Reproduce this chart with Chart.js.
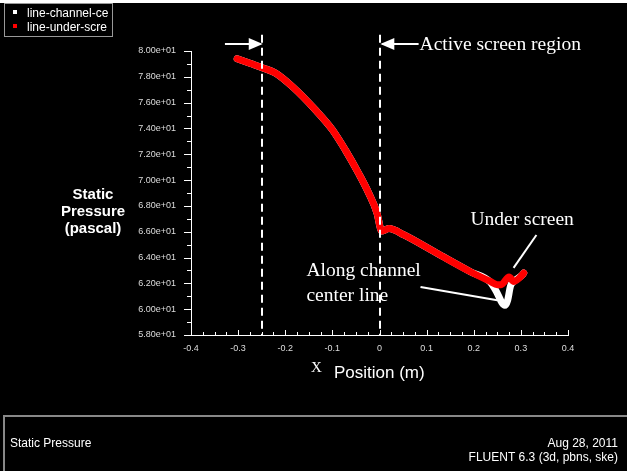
<!DOCTYPE html>
<html>
<head>
<meta charset="utf-8">
<script src="https://cdn.jsdelivr.net/npm/chart.js@4.4.0/dist/chart.umd.min.js"></script>
<style>
  html, body { margin: 0; padding: 0; background: #000; }
  #wrap { position: absolute; left: 0; top: 0; width: 627px; height: 471px; }
</style>
</head>
<body>
<div id="wrap"><canvas id="myChart" width="627" height="471"></canvas></div>
<script>
// position along the line (m)
var xUnder = [-0.302, -0.275, -0.246, -0.221, -0.185, -0.136, -0.100, -0.072, -0.044, -0.023, -0.005, 0.001, 0.004, 0.020, 0.052, 0.122, 0.193, 0.235, 0.250, 0.258, 0.275, 0.285, 0.303, 0.306]
var pUnder = [79.4, 79.05, 78.67, 78.3, 77.25, 75.44, 73.9, 72.3, 70.5, 69.0, 67.4, 66.4, 66.05, 66.25, 65.75, 64.33, 62.9, 62.15, 61.9, 61.9, 62.5, 62.15, 62.65, 62.8]

var xChannel = [-0.302, -0.275, -0.246, -0.221, -0.185, -0.136, -0.100, -0.072, -0.044, -0.023, -0.005, 0.001, 0.004, 0.020, 0.052, 0.122, 0.193, 0.235, 0.246, 0.266, 0.272, 0.278, 0.285, 0.303, 0.306]
var pChannel = [79.4, 79.05, 78.67, 78.3, 77.25, 75.44, 73.9, 72.3, 70.5, 69.0, 67.4, 66.4, 66.05, 66.25, 65.75, 64.33, 62.9, 62.1, 61.5, 60.3, 60.7, 61.8, 62.15, 62.65, 62.8]

var seriesNames = ["line-channel-ce", "line-under-scre"]
var seriesColors = ["#ffffff", "#ff0000"]

var xTicks = [-0.4, -0.3, -0.2, -0.1, 0, 0.1, 0.2, 0.3, 0.4]
var yTicks = [58, 60, 62, 64, 66, 68, 70, 72, 74, 76, 78, 80]

var screenEdges = [-0.25, 0]

function pts(xs, ys) {
  return xs.map(function(x, i) { return {x: x, y: ys[i]} })
}

function sci(v) {
  var e = Math.floor(Math.log10(Math.abs(v)))
  var m = v / Math.pow(10, e)
  return m.toFixed(2) + 'e' + (e < 0 ? '-' : '+') + String(Math.abs(e)).padStart(2, '0')
}

var SANS = '"Liberation Sans", Arial, sans-serif'
var SERIF = '"Liberation Serif", "Times New Roman", serif'

var fluentDecor = {
  id: 'fluentDecor',
  beforeDraw: function(chart) {
    var c = chart.ctx
    c.save()
    c.fillStyle = '#000'
    c.fillRect(0, 0, chart.width, chart.height)
    c.fillStyle = '#fff'
    c.fillRect(0, 0, chart.width, 3)
    c.restore()
  },
  afterDatasetsDraw: function(chart) {
    var c = chart.ctx, xs = chart.scales.x, ys = chart.scales.y
    c.save()
    // dashed screen region bounds
    c.strokeStyle = '#fff'
    c.lineWidth = 2
    c.setLineDash([8, 5])
    screenEdges.forEach(function(v) {
      var px = Math.round(xs.getPixelForValue(v))
      c.beginPath()
      c.moveTo(px, ys.getPixelForValue(81.25))
      c.lineTo(px, ys.bottom)
      c.stroke()
    })
    c.restore()
  },
  afterDraw: function(chart) {
    var c = chart.ctx, xs = chart.scales.x, ys = chart.scales.y
    var X = function(v) { return xs.getPixelForValue(v) }
    var Y = function(v) { return ys.getPixelForValue(v) }
    c.save()
    c.strokeStyle = '#fff'
    c.fillStyle = '#fff'
    c.lineWidth = 1
    // y minor + major ticks (outward)
    for (var v = 58; v <= 80; v++) {
      var py = Math.round(Y(v)) + 0.5
      var len = (v % 2 === 0) ? 7 : 4
      c.beginPath(); c.moveTo(xs.left - len, py); c.lineTo(xs.left, py); c.stroke()
    }
    // x ticks (inward)
    for (var k = -16; k <= 16; k++) {
      var px = Math.round(X(k * 0.025)) + 0.5
      var l2 = (k % 4 === 0) ? 5 : 3
      c.beginPath(); c.moveTo(px, ys.bottom); c.lineTo(px, ys.bottom - l2); c.stroke()
    }

    // arrows at the top
    function arrow(x0, x1, y) {
      c.lineWidth = 2
      c.beginPath(); c.moveTo(x0, y); c.lineTo(x1, y); c.stroke()
      var dir = x1 > x0 ? 1 : -1
      c.beginPath()
      c.moveTo(x1 + dir * 2, y)
      c.lineTo(x1 - dir * 12, y - 6)
      c.lineTo(x1 - dir * 12, y + 6)
      c.closePath(); c.fill()
    }
    var ay = Y(80.55)
    arrow(X(-0.328), X(-0.252), ay)
    arrow(X(0.083), X(0.006), ay)

    c.font = '19.5px ' + SERIF
    c.textAlign = 'left'
    c.textBaseline = 'alphabetic'
    c.fillText('Active screen region', X(0.085), ay + 6)

    // annotations
    c.lineWidth = 2
    c.beginPath(); c.moveTo(X(0.333), Y(65.75)); c.lineTo(X(0.2845), Y(63.2)); c.stroke()
    c.beginPath(); c.moveTo(X(0.087), Y(61.72)); c.lineTo(X(0.25), Y(60.7)); c.stroke()
    c.fillText('Under screen', X(0.193), Y(66.55))
    c.fillText('Along channel', X(-0.155), Y(62.55))
    c.fillText('center line', X(-0.155), Y(60.6))

    // y title
    c.font = 'bold 15px ' + SANS
    c.textAlign = 'center'
    c.fillText('Static', 93, 199)
    c.fillText('Pressure', 93, 216)
    c.fillText('(pascal)', 93, 233)

    // x title
    c.font = '15px ' + SERIF
    c.textAlign = 'left'
    c.fillText('X', 311, 372)
    c.font = '17px ' + SANS
    c.fillText('Position (m)', 334, 378)

    // legend box
    c.strokeStyle = '#999'
    c.lineWidth = 1
    c.strokeRect(4.5, 3.5, 108, 33)
    c.font = '12px ' + SANS
    seriesNames.forEach(function(n, i) {
      c.fillStyle = seriesColors[i]
      c.fillRect(13, 10 + i * 14, 4, 4)
      c.fillStyle = '#fff'
      c.fillText(n, 27, 17 + i * 14)
    })

    // bottom info panel
    c.strokeStyle = '#888'
    c.lineWidth = 2
    c.beginPath(); c.moveTo(4, chart.height); c.lineTo(4, 416); c.lineTo(chart.width, 416); c.stroke()
    c.fillStyle = '#fff'
    c.font = '12px ' + SANS
    c.fillText('Static Pressure', 10, 447)
    c.textAlign = 'right'
    c.fillText('Aug 28, 2011', 618, 447)
    c.fillText('FLUENT 6.3 (3d, pbns, ske)', 618, 461)
    c.restore()
  }
}

document.addEventListener('DOMContentLoaded', function() {
  var ctx = document.getElementById("myChart").getContext('2d')
  var myChart = new Chart(ctx, {
    type: 'scatter',
    data: {
      datasets: [{
        label: seriesNames[1],
        data: pts(xUnder, pUnder),
        showLine: true,
        borderColor: seriesColors[1],
        backgroundColor: seriesColors[1],
        borderWidth: 7,
        borderJoinStyle: 'round',
        borderCapStyle: 'round',
        pointRadius: 0,
        cubicInterpolationMode: 'monotone',
        order: 0
      }, {
        label: seriesNames[0],
        data: pts(xChannel, pChannel),
        showLine: true,
        borderColor: seriesColors[0],
        backgroundColor: seriesColors[0],
        borderWidth: 7,
        borderJoinStyle: 'round',
        borderCapStyle: 'round',
        pointRadius: 0,
        cubicInterpolationMode: 'monotone',
        order: 1
      }]
    },
    options: {
      responsive: false,
      devicePixelRatio: 1,
      animation: false,
      layout: { padding: { top: 51, right: 59, left: 0, bottom: 0 } },
      plugins: { legend: { display: false }, tooltip: { enabled: false } },
      scales: {
        x: {
          type: 'linear',
          min: -0.4, max: 0.4,
          afterFit: function(s) { s.height = 136 },
          afterBuildTicks: function(s) { s.ticks = xTicks.map(function(v) { return {value: v} }) },
          border: { display: true, color: '#fff', width: 1 },
          grid: { display: true, drawOnChartArea: false, drawTicks: false, color: '#fff' },
          ticks: {
            padding: 8,
            color: '#ddd',
            font: { family: SANS, size: 9 },
            maxRotation: 0,
            callback: function(v) { return String(Math.round(v * 10) / 10) }
          }
        },
        y: {
          min: 58, max: 80,
          afterFit: function(s) { s.width = 191 },
          afterBuildTicks: function(s) { s.ticks = yTicks.map(function(v) { return {value: v} }) },
          border: { display: true, color: '#fff', width: 1 },
          grid: { display: true, drawOnChartArea: false, drawTicks: true, tickLength: 7, color: 'rgba(0,0,0,0)' },
          ticks: {
            padding: 8,
            color: '#ddd',
            font: { family: SANS, size: 9 },
            callback: function(v) { return sci(v) }
          }
        }
      }
    },
    plugins: [fluentDecor]
  })
})
</script>
</body>
</html>
